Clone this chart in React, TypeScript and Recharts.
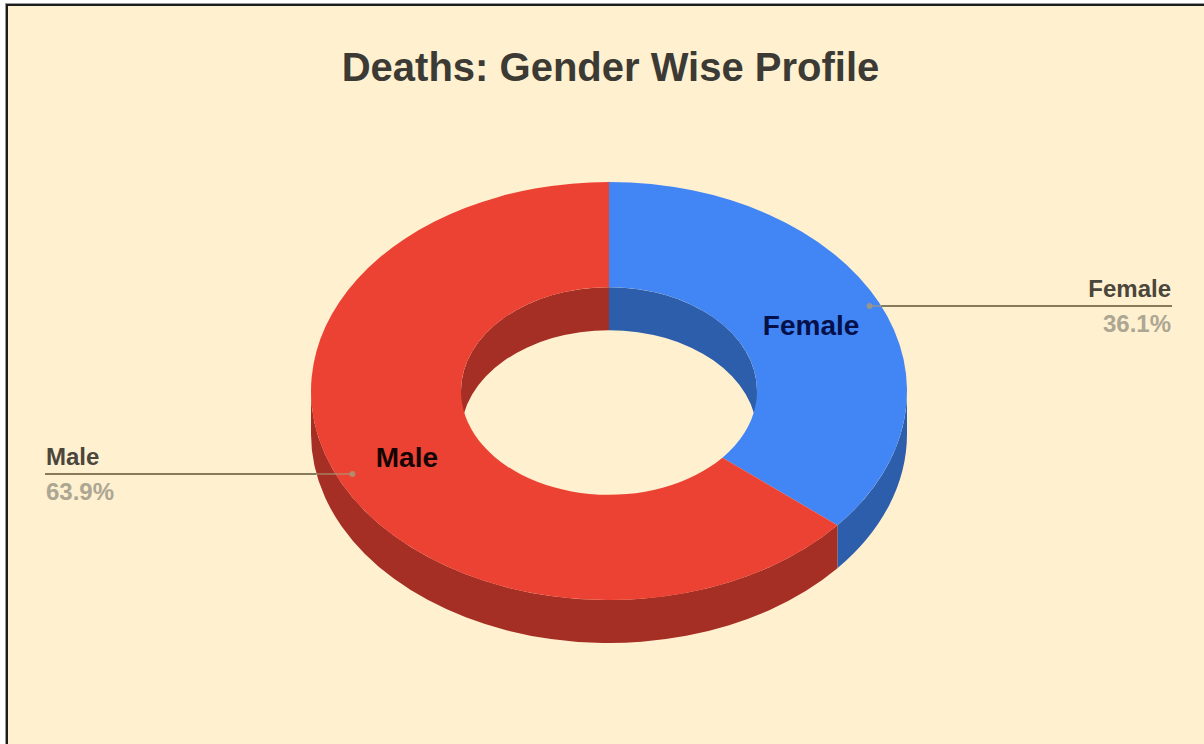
import React from "react";
import { PieChart, Pie } from "recharts";

const categories = ["Female", "Male"];
const shares = [36.1, 63.9];
const topColors = ["#4285F4", "#EC4234"];
const wallColors = ["#2D5EAB", "#A52F24"];
const innerTextColors = ["#04104a", "#140404"];
const leaderNudgeX = [0, 4];
const leaderNudgeY = [0, -2];
const titleText = "Deaths: Gender Wise Profile";

const WIDTH = 1204;
const HEIGHT = 744;
const CX = 609;
const CY = 391;
const RX = 298;
const HOLE = 148;
const SQUASH = 209 / 298;
const DEPTH = 43;

const topRows = categories.map((name, i) => ({ name, value: shares[i], fill: topColors[i] }));
const wallRows = categories.map((name, i) => ({ name, value: shares[i], fill: wallColors[i] }));

const pt = (cx: number, cy: number, r: number, deg: number) => {
  const a = (deg * Math.PI) / 180;
  return [cx + r * Math.cos(a), cy - r * SQUASH * Math.sin(a)];
};

const arc = (r: number, hi: number, lo: number, sweep: number, x: number, y: number) =>
  `A ${r} ${r * SQUASH} 0 ${Math.abs(hi - lo) > 180 ? 1 : 0} ${sweep} ${x} ${y}`;

// Intersect a slice's angle span with the span of a visible half of the ring
const clip = (start: number, end: number, visLo: number, visHi: number) => {
  const lo = Math.min(start, end);
  const hi = Math.max(start, end);
  for (const shift of [0, 360, -360]) {
    const l = Math.max(lo + shift, visLo);
    const h = Math.min(hi + shift, visHi);
    if (h > l) return [l, h];
  }
  return null;
};

const TopFace = (p: any) => {
  const { cx, cy, innerRadius: ri, outerRadius: ro, startAngle: s, endAngle: e, fill } = p;
  const [x1, y1] = pt(cx, cy, ro, s);
  const [x2, y2] = pt(cx, cy, ro, e);
  const [x3, y3] = pt(cx, cy, ri, e);
  const [x4, y4] = pt(cx, cy, ri, s);
  const d = `M ${x1} ${y1} ${arc(ro, s, e, 1, x2, y2)} L ${x3} ${y3} ${arc(ri, s, e, 0, x4, y4)} Z`;
  return <path d={d} fill={fill} />;
};

const wallPath = (cx: number, cy: number, r: number, hi: number, lo: number) => {
  const [x1, y1] = pt(cx, cy, r, hi);
  const [x2, y2] = pt(cx, cy, r, lo);
  return `M ${x1} ${y1} ${arc(r, hi, lo, 1, x2, y2)} L ${x2} ${y2 + DEPTH} ${arc(r, hi, lo, 0, x1, y1 + DEPTH)} Z`;
};

const OuterWall = (p: any) => {
  const span = clip(p.startAngle, p.endAngle, -180, 0);
  if (!span) return <g />;
  return <path d={wallPath(p.cx, p.cy, p.outerRadius, span[1], span[0])} fill={p.fill} />;
};

const InnerWall = (p: any) => {
  const span = clip(p.startAngle, p.endAngle, 0, 180);
  if (!span) return <g />;
  return <path d={wallPath(p.cx, p.cy, p.innerRadius, span[1], span[0])} fill={p.fill} />;
};

const Labels = (p: any) => {
  const { cx, cy, innerRadius: ri, outerRadius: ro, midAngle, percent, name, index } = p;
  const [mx, my] = pt(cx, cy, (ri + ro) / 2, midAngle);
  const [rawX, rawY] = pt(cx, cy, ro * 0.965, midAngle);
  const ax = rawX + leaderNudgeX[index];
  const right = ax > cx;
  const y = Math.round(rawY + leaderNudgeY[index]);
  const dy = (y - cy) / (ro * SQUASH);
  const edgeDy = right ? dy : (y - DEPTH - cy) / (ro * SQUASH);
  const edgeX = cx + (right ? 1 : -1) * ro * Math.sqrt(1 - edgeDy * edgeDy);
  const endX = right ? 1172 : 45;
  const textX = right ? 1171 : 46;
  const anchor = right ? "end" : "start";
  return (
    <g>
      <line x1={edgeX} y1={y} x2={endX} y2={y} stroke="#5f5535" strokeWidth={1.5} />
      <line x1={ax} y1={y} x2={edgeX} y2={y} stroke="#a79a78" strokeOpacity={0.75} strokeWidth={1.5} />
      <circle cx={ax} cy={y} r={3} fill="#a79a78" fillOpacity={0.8} />
      <text x={textX} y={y - 9} textAnchor={anchor} fontFamily="Liberation Sans" fontSize={24} fontWeight={700} fill="#4a463c">
        {name}
      </text>
      <text x={textX} y={y + 26} textAnchor={anchor} fontFamily="Liberation Sans" fontSize={24} fontWeight={700} fill="#aca693">
        {`${(percent * 100).toFixed(1)}%`}
      </text>
      <text x={mx} y={my + 10} textAnchor="middle" fontFamily="Liberation Sans" fontSize={28} fontWeight={700} fill={innerTextColors[index]}>
        {name}
      </text>
    </g>
  );
};

export default function App() {
  return (
    <div style={{ position: "absolute", left: 0, top: 0, width: WIDTH, height: HEIGHT, overflow: "hidden", background: "#fff" }}>
      <div
        style={{
          position: "absolute",
          left: 6,
          top: 4,
          width: WIDTH,
          height: HEIGHT,
          background: "#FFF0CF",
          borderLeft: "2px solid #1c1c1c",
          borderTop: "2px solid #1c1c1c",
          boxShadow: "-1px -1px 0 #999",
        }}
      />
      <div style={{ position: "absolute", left: 0, top: 0 }}>
        <PieChart width={WIDTH} height={HEIGHT} margin={{ top: 0, right: 0, bottom: 0, left: 0 }}>
          <text x={610.5} y={81} textAnchor="middle" fontFamily="Liberation Sans" fontSize={40} fontWeight={700} fill="#3b3a34">
            {titleText}
          </text>
          <Pie
            data={wallRows}
            dataKey="value"
            nameKey="name"
            cx={CX}
            cy={CY}
            innerRadius={HOLE}
            outerRadius={RX}
            startAngle={90}
            endAngle={-270}
            shape={OuterWall}
            label={false}
            labelLine={false}
            isAnimationActive={false}
          />
          <Pie
            data={wallRows}
            dataKey="value"
            nameKey="name"
            cx={CX}
            cy={CY}
            innerRadius={HOLE}
            outerRadius={RX}
            startAngle={90}
            endAngle={-270}
            shape={InnerWall}
            label={false}
            labelLine={false}
            isAnimationActive={false}
          />
          <Pie
            data={topRows}
            dataKey="value"
            nameKey="name"
            cx={CX}
            cy={CY}
            innerRadius={HOLE}
            outerRadius={RX}
            startAngle={90}
            endAngle={-270}
            shape={TopFace}
            label={Labels}
            labelLine={false}
            isAnimationActive={false}
          />
        </PieChart>
      </div>
    </div>
  );
}
